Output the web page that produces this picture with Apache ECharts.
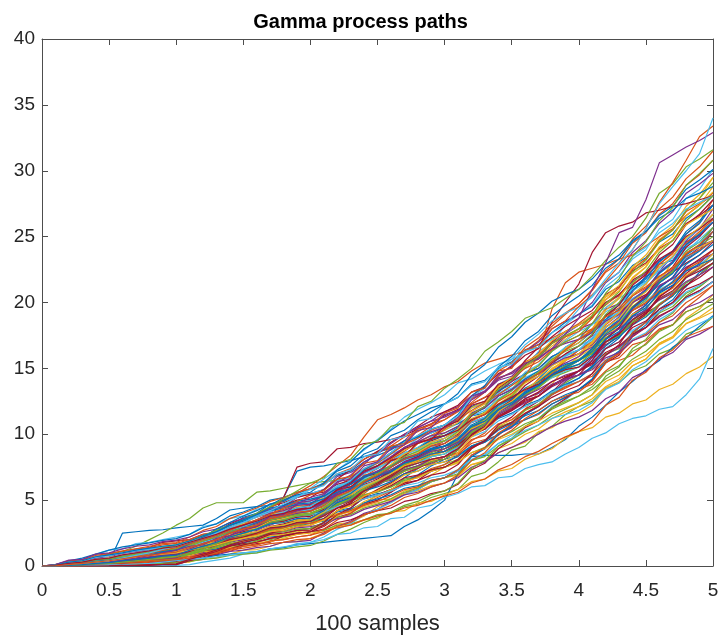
<!DOCTYPE html>
<html>
<head>
<meta charset="utf-8">
<script src="https://cdn.jsdelivr.net/npm/echarts/dist/echarts.min.js"></script>
<style>
  html, body { margin: 0; padding: 0; background: #ffffff; }
  #chart { width: 721px; height: 637px; }
</style>
</head>
<body>
<div id="chart"></div>
<script>
// Sample times shared by every path (step 0.1)
const timeGrid = [0, 0.1, 0.2, 0.3, 0.4, 0.5, 0.6, 0.7, 0.8, 0.9, 1.0,
  1.1, 1.2, 1.3, 1.4, 1.5, 1.6, 1.7, 1.8, 1.9, 2.0,
  2.1, 2.2, 2.3, 2.4, 2.5, 2.6, 2.7, 2.8, 2.9, 3.0,
  3.1, 3.2, 3.3, 3.4, 3.5, 3.6, 3.7, 3.8, 3.9, 4.0,
  4.1, 4.2, 4.3, 4.4, 4.5, 4.6, 4.7, 4.8, 4.9, 5.0];

// Axis tick values
const xTicks = [0, 0.5, 1, 1.5, 2, 2.5, 3, 3.5, 4, 4.5, 5];
const yTicks = [0, 5, 10, 15, 20, 25, 30, 35, 40];

// Line colour cycle (path i uses lineColors[i % 7])
const lineColors = ['#0072BD', '#D95319', '#EDB120', '#7E2F8E', '#77AC30', '#4DBEEE', '#A2142F'];

const chartTitle = 'Gamma process paths';
const xAxisTitle = '100 samples';

// One row per simulated path, values at the times in timeGrid
const samplePaths = [
  [0,0,0.02,0.02,0.1,0.3,0.3,0.5,0.55,0.9,1.2, 1.25,1.6,1.65,2.0,2.1,2.15,2.6,2.7,3.0,3.25, 3.4,4.2,4.4,5.2,5.5,5.6,6.7,7.4,8.3,9.1, 9.3,10.5,10.8,11.8,12.7,12.8,14.2,15.2,16.6,17.2, 18.4,18.7,19.9,21.2,21.6,22.9,23.2,24.6,25.2,26.1],
  [0,0.05,0.1,0.1,0.45,0.5,0.55,1.0,1.3,1.3,1.6, 1.9,1.95,2.5,2.7,3.3,3.4,3.5,4.1,4.5,4.7, 4.8,5.4,5.5,6.0,6.5,6.6,7.2,7.6,7.7,8.3, 8.5,9.3,9.6,9.9,10.8,11.1,11.5,12.3,12.8,13.4, 13.8,14.8,15.6,16.0,16.9,17.9,18.3,19.6,20.4,21.3],
  [0,0,0,0,0,0.02,0.02,0.1,0.1,0.2,0.28, 0.3,0.6,0.65,0.9,1.2,1.25,1.5,1.8,1.85,2.1, 2.5,3.2,3.3,3.8,4.5,4.8,5.5,6.0,6.9,7.5, 7.8,8.9,9.5,10.6,11.1,11.9,13.2,13.8,15.1,15.9, 16.5,17.9,18.5,19.9,21.0,21.6,23.1,24.2,25.3,26.7],
  [0,0.02,0.05,0.3,0.3,0.5,0.55,0.9,0.95,1.1,1.3, 1.4,2.1,2.3,2.9,3.1,3.9,4.1,4.5,5.2,5.5, 5.8,6.8,7.1,7.7,8.7,8.9,9.5,10.5,11.0,11.7, 12.1,12.9,13.2,14.3,14.6,15.3,16.2,16.4,17.4,18.0, 18.4,19.5,19.9,20.8,22.0,22.4,23.5,24.6,25.1,26.4],
  [0,0,0.02,0.02,0.1,0.1,0.3,0.4,0.45,0.6,0.7, 0.95,1.0,1.3,1.55,1.6,1.9,2.0,2.2,2.5,2.6, 2.7,3.1,3.2,3.5,3.9,4.0,4.5,4.7,5.2,5.5, 5.8,6.8,7.1,7.9,8.8,9.1,10.1,10.6,11.5,12.1, 12.5,13.5,13.9,14.8,15.2,16.1,16.5,17.6,18.0,18.9],
  [0,0,0.05,0.05,0.2,0.4,0.4,0.6,0.7,0.75,1.0, 1.2,1.6,1.8,2.3,2.5,2.9,3.3,3.5,4.1,4.3, 4.6,5.6,5.8,6.6,7.2,7.6,8.5,8.9,9.8,10.3, 10.8,12.0,12.4,13.8,14.3,15.0,16.3,16.9,18.3,19.1, 19.8,21.2,22.0,23.3,24.0,25.6,26.3,27.9,28.6,30.1],
  [0,0.1,0.35,0.4,0.45,0.95,1.1,1.15,1.4,1.8,1.9, 2.0,2.4,2.5,2.9,3.0,3.4,3.7,3.8,4.2,4.4, 4.7,5.3,5.5,6.2,6.5,6.9,7.6,7.8,8.4,8.9, 9.3,10.1,10.4,11.3,11.8,12.6,12.9,13.7,14.3,14.8, 15.6,16.8,17.4,18.5,19.2,20.5,21.1,22.2,23.0,24.0],
  [0,0.02,0.1,0.1,0.25,0.3,2.5,2.6,2.7,2.75,2.9, 3.0,3.1,3.6,4.25,4.4,4.5,4.6,5.2,7.2,7.5, 7.6,7.8,8.0,8.3,8.6,9.0,9.4,9.8,10.1,10.5, 10.8,11.4,11.6,12.2,12.9,13.3,13.8,14.5,15.0,15.6, 16.5,17.0,17.4,18.3,18.9,19.8,20.6,21.2,22.3,23.0],
  [0,0,0,0.02,0.05,0.05,0.2,0.3,0.3,0.45,0.52, 0.9,1.0,1.4,1.5,2.0,2.2,2.4,3.0,3.1,3.5, 3.8,4.6,5.0,5.5,6.3,6.7,7.6,7.9,8.9,9.5, 9.9,10.9,11.2,12.0,12.8,13.2,14.2,14.6,15.6,16.1, 17.0,18.3,19.1,20.5,21.4,22.9,23.7,25.2,26.1,27.8],
  [0,0,0.08,0.15,0.35,0.4,0.6,0.65,0.8,1.05,1.12, 1.4,1.5,1.85,1.9,2.3,2.5,2.6,3.0,3.1,3.4, 3.5,4.0,4.1,4.6,5.0,5.1,5.7,5.9,6.4,6.7, 6.9,7.7,7.9,8.6,9.0,9.4,10.2,10.5,11.2,11.6, 12.2,13.5,14.0,15.2,15.7,16.9,17.4,18.8,19.5,20.6],
  [0,0.02,0.1,0.12,0.3,0.4,0.45,0.65,0.7,0.9,1.0, 1.1,1.6,1.7,2.2,2.6,2.7,3.2,3.4,3.8,4.0, 4.3,4.9,5.3,5.6,6.3,6.5,7.0,7.5,7.8,8.3, 9.0,9.9,10.4,11.6,12.1,12.9,14.0,14.5,15.6,16.4, 16.8,17.9,18.3,19.4,19.9,20.8,21.3,22.4,22.8,23.7],
  [0,0.05,0.2,0.4,0.6,0.9,1.1,1.5,2.0,2.5,3.1, 3.6,4.4,4.8,4.8,4.8,5.6,5.7,5.9,6.1,6.3, 6.4,6.5,6.8,7.3,7.6,8.2,8.5,9.0,9.6,10.1, 10.6,11.0,11.7,12.2,12.8,13.4,13.9,14.4,15.2,15.7, 16.4,17.3,18.0,18.6,19.4,20.2,20.8,21.9,22.6,23.4],
  [0,0.05,0.25,0.45,0.85,1.2,1.3,1.7,1.8,2.0,2.2, 2.4,3.0,3.2,3.6,3.8,4.3,4.6,4.9,5.3,5.5, 5.8,6.5,6.7,7.3,7.8,8.0,8.6,9.0,9.6,9.9, 10.4,11.4,11.8,12.6,13.1,14.0,14.4,15.2,15.9,16.4, 17.1,18.5,19.0,20.3,20.9,22.3,23.0,24.3,25.0,26.4],
  [0,0,0,0,0,0,0.02,0.05,0.05,0.08,0.1, 0.4,0.5,1.0,1.1,1.5,1.7,1.8,2.3,2.4,2.6, 3.0,3.7,4.0,4.7,5.0,5.6,6.2,6.5,7.2,7.5, 8.0,9.0,9.4,10.5,10.9,11.9,12.5,13.2,14.2,14.8, 15.6,17.0,17.7,19.1,19.8,21.2,21.9,23.3,24.0,25.4],
  [0,0.02,0.1,0.3,0.35,0.6,0.65,0.95,1.1,1.35,1.48, 1.9,2.1,2.8,3.0,3.7,4.0,4.7,4.9,5.5,5.85, 6.3,7.2,7.6,8.5,8.9,9.9,10.3,11.1,11.7,12.3, 12.8,13.8,14.1,15.0,15.5,16.4,16.8,17.7,18.5,19.1, 19.7,21.0,21.6,22.8,23.4,24.6,25.2,26.4,27.1,28.1],
  [0,0,0.02,0.1,0.1,0.3,0.35,0.5,0.55,0.7,0.82, 1.2,1.3,1.9,2.2,2.7,2.8,3.4,3.6,4.0,4.2, 4.5,5.2,5.4,6.1,6.4,6.8,7.3,7.5,8.0,8.3, 8.6,9.6,9.9,10.8,11.1,11.9,12.2,13.0,13.5,14.0, 14.4,15.5,15.8,16.8,17.1,18.0,18.3,19.3,19.7,20.3],
  [0,0.02,0.1,0.25,0.3,0.5,0.6,0.8,0.85,1.1,1.18, 1.6,1.7,2.2,2.5,3.0,3.3,3.8,4.0,4.5,4.7, 5.0,5.7,5.9,6.5,6.8,7.3,7.8,8.1,8.7,9.1, 9.8,11.1,11.6,12.9,13.4,14.7,15.2,16.4,17.2,18.0, 18.8,20.4,21.1,22.6,23.3,24.8,25.5,27.0,27.9,29.5],
  [0,0,0,0.02,0.02,0.1,0.1,0.2,0.3,0.3,0.4, 0.45,0.8,0.85,1.1,1.2,1.4,1.5,1.8,1.85,1.95, 2.5,3.0,3.4,4.0,4.3,4.9,5.5,5.8,6.4,6.7, 7.2,8.4,8.9,10.0,10.5,11.5,12.1,13.1,14.0,14.8, 15.4,17.0,17.7,19.1,19.8,21.2,21.9,23.4,24.2,25.7],
  [0,0.05,0.1,0.3,0.35,0.6,0.7,0.9,1.0,1.2,1.36, 1.5,1.9,2.0,2.4,2.6,2.8,3.3,3.4,3.8,3.9, 4.1,4.7,4.9,5.4,5.7,6.0,6.6,6.8,7.3,7.7, 8.1,9.1,9.5,10.5,10.9,11.8,12.3,13.1,13.9,14.5, 15.0,16.1,16.5,17.7,18.1,19.2,19.7,20.7,21.2,22.0],
  [0,0,0.02,0.05,0.2,0.25,0.5,0.6,0.7,0.9,1.0, 1.3,1.8,2.0,2.6,2.9,3.3,3.8,4.0,4.5,4.7, 5.3,6.0,6.5,7.3,7.6,8.5,8.9,9.7,10.1,10.7, 11.1,12.0,12.3,13.1,13.5,14.2,14.6,15.5,16.0,16.7, 17.2,18.2,18.6,19.6,20.1,21.0,21.5,22.5,22.9,23.7],
  [0,0,0.05,0.1,0.15,0.3,0.5,0.6,0.75,0.9,1.1, 1.3,1.6,2.0,2.3,2.6,3.0,3.5,5.2,7.5,7.8, 7.9,8.9,9.0,9.3,9.4,9.6,9.9,10.4,10.8,11.4, 11.9,12.3,12.8,13.2,14.0,14.6,15.0,15.9,16.4,17.2, 17.9,18.6,19.2,20.1,20.6,21.5,22.3,23.0,23.6,24.6],
  [0,0,0.02,0.08,0.1,0.2,0.3,0.35,0.5,0.7,0.76, 0.9,1.2,1.3,1.6,1.75,2.0,2.2,2.3,2.7,2.86, 3.3,3.8,4.3,4.7,5.4,5.8,6.4,6.9,7.6,8.1, 8.4,9.1,9.4,10.0,10.6,11.1,11.6,12.3,12.8,13.4, 14.1,15.5,16.2,17.5,18.3,19.5,20.2,21.5,22.1,23.0],
  [0,0.08,0.3,0.4,0.7,0.95,1.0,1.3,1.4,1.6,1.72, 2.0,2.4,2.6,3.0,3.3,3.7,4.0,4.3,4.7,4.94, 5.5,6.0,6.7,7.4,7.9,8.6,9.2,9.9,10.6,11.1, 11.8,12.9,13.6,14.8,15.4,16.6,17.3,18.4,19.2,19.9, 20.9,22.3,23.0,24.5,25.3,26.7,27.5,28.9,29.7,30.8],
  [0,0.03,0.15,0.2,0.4,0.45,0.6,0.8,0.85,0.95,1.0, 1.3,1.5,1.8,1.9,2.3,2.5,2.8,2.9,3.2,3.25, 3.5,3.9,4.1,4.5,4.8,5.0,5.5,5.7,6.1,6.3, 6.8,7.7,8.0,8.9,9.3,10.0,10.4,11.2,11.7,12.1, 12.7,13.6,14.2,15.2,15.7,16.8,17.3,18.4,18.9,19.6],
  [0,0,0.02,0.1,0.15,0.2,0.3,0.45,0.5,0.6,0.64, 1.0,1.3,1.8,2.1,2.5,2.8,3.1,3.5,3.7,3.9, 4.3,5.1,5.5,6.3,6.7,7.5,8.1,8.5,9.2,9.7, 10.3,11.6,12.1,13.3,14.0,15.1,15.8,16.9,17.6,18.3, 18.9,20.0,20.5,21.6,22.2,23.2,23.8,25.0,25.6,26.7],
  [0,0.04,0.15,0.2,0.45,0.5,0.7,0.8,1.0,1.15,1.24, 1.5,1.8,2.0,2.4,2.7,2.9,3.4,3.6,4.0,4.16, 4.6,5.3,5.6,6.4,6.8,7.3,7.9,8.2,8.8,9.1, 9.5,10.5,10.9,11.9,12.3,13.1,13.6,14.3,14.7,15.1, 15.9,17.3,18.0,19.4,20.2,21.5,22.3,23.7,24.4,25.7],
  [0,0,0,0,0,0,0,0.02,0.02,0.05,0.05, 0.1,0.3,0.45,0.6,0.9,1.0,1.3,1.4,1.7,1.8, 2.2,2.8,3.2,3.9,4.3,4.8,5.4,5.8,6.4,6.7, 7.2,8.0,8.4,9.3,9.9,10.6,11.2,12.1,12.6,13.4, 14.2,15.6,16.3,17.8,18.5,19.9,20.6,22.0,22.7,23.7],
  [0,0.05,0.2,0.3,0.5,0.6,0.8,0.95,1.15,1.3,1.42, 1.8,2.3,2.6,3.2,3.6,3.9,4.5,4.8,5.2,5.46, 5.6,6.2,6.5,7.1,7.4,8.0,8.4,8.9,9.5,9.9, 10.3,11.1,11.5,12.2,12.8,13.2,14.0,14.5,15.2,15.6, 16.2,17.0,17.6,18.4,19.2,19.8,20.6,21.3,22.1,23.0],
  [0,0,0,0.02,0.05,0.05,0.1,0.2,0.25,0.3,0.4, 0.5,0.6,0.8,0.9,1.0,1.1,1.3,1.4,1.6,1.7, 1.8,1.9,2.0,2.1,2.2,2.3,3.0,3.5,4.2,5.0, 7.0,8.3,8.4,8.4,8.4,8.5,8.5,9.0,9.6,10.6, 11.3,12.2,13.2,14.0,14.9,15.6,16.6,17.3,18.2,19.0],
  [0,0,0.05,0.08,0.2,0.25,0.4,0.5,0.65,0.8,0.88, 1.2,1.5,1.9,2.2,2.7,3.0,3.4,3.7,4.0,4.3, 4.9,5.5,6.2,6.8,7.4,8.1,8.7,9.4,9.9,10.5, 11.3,12.4,13.2,14.4,15.2,16.3,17.1,18.2,19.1,19.9, 21.0,22.4,23.3,24.8,25.8,27.1,28.0,29.4,30.3,31.5],
  [0,0.02,0.1,0.15,0.3,0.4,0.5,0.7,0.8,0.95,1.06, 1.3,1.4,1.8,2.0,2.4,2.5,2.9,3.0,3.3,3.5, 3.9,4.6,5.0,5.6,6.2,6.6,7.3,7.6,8.3,8.7, 9.3,10.4,10.9,11.9,12.5,13.4,14.0,14.9,15.7,16.4, 17.0,17.9,18.5,19.4,20.0,20.9,21.5,22.5,23.1,24.0],
  [0,0,0,0.02,0.05,0.1,0.15,0.2,0.3,0.35,0.4, 0.8,1.0,1.5,1.8,2.2,2.4,2.8,3.1,3.5,3.64, 4.0,4.8,5.2,6.0,6.5,7.1,7.9,8.3,9.1,9.5, 10.0,10.9,11.3,12.1,12.6,13.3,13.7,14.5,15.1,15.6, 16.4,17.8,18.6,20.0,20.9,22.3,23.1,24.7,25.6,27.1],
  [0,0.04,0.2,0.3,0.45,0.6,0.75,0.9,1.0,1.2,1.3, 1.5,1.9,2.1,2.5,2.8,3.0,3.4,3.5,3.8,3.9, 4.2,4.7,4.9,5.4,5.6,6.0,6.5,6.7,7.2,7.5, 7.9,8.6,9.0,9.7,10.2,10.8,11.2,11.9,12.4,12.9, 13.4,14.2,14.8,15.7,16.3,17.2,17.8,18.7,19.3,19.9],
  [0,0.02,0.1,0.15,0.3,0.45,0.5,0.65,0.75,0.9,1.0, 1.4,1.8,2.1,2.7,3.0,3.4,3.9,4.1,4.6,4.8, 5.1,5.8,6.0,6.7,7.0,7.6,8.0,8.4,9.0,9.3, 10.0,11.1,11.6,12.7,13.3,14.3,14.8,15.8,16.6,17.2, 17.8,18.7,19.3,20.3,20.9,21.8,22.4,23.4,24.0,24.7],
  [0,0,0.02,0.05,0.15,0.2,0.3,0.35,0.5,0.6,0.7, 0.85,1.1,1.2,1.5,1.7,1.8,2.1,2.3,2.5,2.6, 2.8,3.3,3.5,3.9,4.2,4.4,4.9,5.1,5.5,5.7, 6.2,7.3,7.8,8.9,9.6,10.5,11.0,12.0,12.7,13.4, 14.1,15.4,16.0,17.4,18.1,19.3,20.0,21.3,21.9,22.7],
  [0,0.1,0.4,0.6,0.9,1.2,1.45,1.6,1.75,1.95,2.08, 2.4,2.9,3.2,3.8,4.1,4.5,5.0,5.2,5.6,5.85, 6.2,6.9,7.2,7.9,8.4,8.8,9.5,9.8,10.4,10.7, 11.1,12.1,12.5,13.3,13.8,14.6,15.0,15.9,16.4,16.95, 17.8,19.0,19.8,21.1,21.9,23.1,23.9,25.2,26.0,27.4],
  [0,0.02,0.1,0.2,0.3,0.45,0.6,0.8,1.0,1.3,1.5, 1.8,2.2,2.6,3.1,3.5,3.9,4.4,5.0,5.5,6.1, 6.8,7.6,8.4,9.8,11.1,11.5,12.0,12.6,13.0,13.6, 14.0,14.8,15.4,15.7,16.0,16.3,16.8,17.3,17.8,18.4, 19.2,19.8,20.6,21.4,22.1,22.9,23.8,24.5,25.4,26.3],
  [0,0,0.02,0.1,0.2,0.3,0.35,0.5,0.6,0.8,0.88, 1.0,1.4,1.5,1.9,2.1,2.3,2.7,2.8,3.0,3.1, 3.5,4.2,4.6,5.3,5.8,6.4,7.0,7.4,8.0,8.3, 9.0,10.3,10.9,12.1,12.8,13.9,14.6,15.6,16.5,17.2, 18.0,19.6,20.4,21.9,22.7,24.2,25.0,26.6,27.4,28.8],
  [0,0.05,0.25,0.3,0.6,0.7,0.95,1.1,1.25,1.45,1.54, 1.8,2.1,2.3,2.8,3.0,3.3,3.8,3.9,4.3,4.4, 4.8,5.5,5.8,6.4,6.8,7.1,7.8,8.0,8.5,8.7, 9.1,10.1,10.5,11.3,11.8,12.4,12.9,13.6,14.1,14.5, 15.1,16.0,16.6,17.5,18.1,18.9,19.5,20.4,20.9,21.6],
  [0,0,0,0,0.02,0.05,0.05,0.1,0.15,0.2,0.22, 0.5,0.8,1.0,1.4,1.6,1.9,2.3,2.4,2.7,2.86, 3.1,3.7,3.9,4.4,4.7,5.1,5.6,5.9,6.4,6.7, 7.0,8.0,8.3,9.1,9.6,10.2,10.7,11.4,11.9,12.4, 13.0,14.4,15.1,16.5,17.2,18.5,19.2,20.5,21.2,22.0],
  [0,0,0.05,0.15,0.3,0.4,0.55,0.7,0.9,1.1,1.35, 1.6,2.0,2.4,2.8,3.3,3.7,4.1,4.6,5.3,5.9, 6.6,7.3,8.0,8.8,9.6,10.4,11.3,11.9,12.4,13.0, 13.9,14.2,14.8,15.3,15.7,16.2,16.6,17.2,17.7,18.3, 19.0,19.6,20.3,21.0,21.6,22.4,23.1,23.9,24.8,25.7],
  [0,0.02,0.1,0.2,0.3,0.45,0.6,0.75,0.85,1.05,1.18, 1.6,2.0,2.6,3.0,3.5,3.8,4.3,4.6,5.0,5.2, 5.8,6.6,7.3,8.1,8.7,9.4,10.0,10.6,11.3,11.7, 12.2,13.2,13.6,14.6,15.1,16.0,16.5,17.4,18.2,18.8, 19.4,20.6,21.2,22.4,23.0,24.1,24.7,26.0,26.6,27.4],
  [0,0.02,0.1,0.15,0.3,0.4,0.55,0.65,0.8,0.95,1.0, 1.3,1.5,1.8,2.0,2.4,2.5,2.8,3.0,3.3,3.5, 4.0,4.8,5.2,6.0,6.5,7.1,7.8,8.2,8.8,9.1, 9.4,10.2,10.5,11.2,11.6,12.2,12.6,13.3,13.8,14.25, 15.2,16.7,17.5,18.9,19.8,21.1,21.9,23.2,23.9,24.7],
  [0,0,0.02,0.05,0.1,0.15,0.25,0.3,0.4,0.5,0.58, 0.7,0.9,1.0,1.3,1.5,1.6,1.9,2.0,2.2,2.34, 2.8,3.5,4.0,4.7,5.2,5.7,6.3,6.8,7.4,7.7, 8.4,9.5,10.1,11.3,12.0,13.0,13.7,14.7,15.6,16.4, 17.0,17.9,18.4,19.4,20.0,20.9,21.5,22.5,23.1,24.0],
  [0,0.04,0.2,0.25,0.5,0.55,0.8,0.9,1.1,1.3,1.36, 1.7,2.0,2.4,2.8,3.2,3.5,3.9,4.2,4.5,4.7, 5.2,5.9,6.3,7.1,7.5,8.2,8.8,9.3,9.9,10.3, 10.9,12.0,12.5,13.6,14.2,15.1,15.7,16.7,17.4,18.0, 19.0,20.5,21.3,22.7,23.6,25.0,25.8,27.3,28.2,29.5],
  [0,0.02,0.1,0.15,0.3,0.4,0.55,0.7,0.75,0.9,0.94, 1.1,1.4,1.5,1.8,2.0,2.2,2.5,2.6,2.9,2.99, 3.2,3.6,3.8,4.3,4.6,4.9,5.4,5.6,6.0,6.3, 6.7,7.5,7.9,8.6,9.0,9.5,10.0,10.6,11.0,11.3, 11.8,12.7,13.2,14.3,14.8,15.7,16.2,17.2,17.6,18.2],
  [0,0.02,0.08,0.15,0.3,0.45,0.5,0.7,0.8,1.0,1.12, 1.5,1.8,2.1,2.6,2.9,3.2,3.7,3.9,4.3,4.4, 4.7,5.2,5.5,6.0,6.4,6.8,7.3,7.6,8.1,8.3, 8.9,10.0,10.5,11.5,12.1,12.9,13.5,14.4,15.0,15.6, 16.4,17.7,18.4,19.7,20.5,21.7,22.4,23.9,24.6,25.7],
  [0,0.05,0.3,0.35,0.7,0.8,1.0,1.2,1.3,1.5,1.6, 1.8,2.0,2.2,2.6,2.8,3.0,3.4,3.5,3.8,3.9, 4.4,5.3,5.6,6.5,7.0,7.6,8.3,8.7,9.4,9.7, 10.3,11.5,12.0,13.1,13.7,14.7,15.3,16.3,17.1,17.8, 18.3,19.3,19.8,20.9,21.5,22.4,23.0,24.1,24.6,25.4],
  [0,0,0,0.02,0.05,0.1,0.15,0.25,0.3,0.4,0.46, 0.9,1.1,1.6,1.9,2.4,2.6,3.0,3.2,3.5,3.64, 3.9,4.4,4.6,5.1,5.4,5.8,6.3,6.5,6.9,7.1, 7.7,8.9,9.5,10.7,11.3,12.3,12.9,13.7,14.3,14.8, 15.3,16.2,16.7,17.6,18.1,19.0,19.5,20.4,20.9,21.6],
  [0,0,0.05,0.1,0.25,0.35,0.5,0.6,0.75,0.9,1.0, 1.4,1.6,2.0,2.4,2.7,3.0,3.4,3.6,4.0,4.16, 4.6,5.4,5.9,6.7,7.2,7.9,8.5,8.9,9.6,9.9, 10.5,11.5,12.0,12.9,13.4,14.2,14.8,15.5,16.0,16.4, 17.3,18.7,19.5,20.9,21.8,23.1,23.9,25.4,26.2,27.4],
  [0,0,0.02,0.05,0.15,0.2,0.3,0.4,0.5,0.65,0.76, 1.2,1.6,2.0,2.5,2.8,3.2,3.7,3.9,4.2,4.4, 5.0,5.8,6.4,7.3,7.8,8.5,9.2,9.7,10.3,10.7, 11.2,12.3,12.8,13.7,14.2,15.0,15.5,16.4,17.0,17.5, 18.0,19.0,19.6,20.6,21.2,22.0,22.6,23.5,24.0,24.7],
  [0,0,0.02,0.05,0.1,0.15,0.25,0.35,0.45,0.6,0.7, 0.8,1.1,1.15,1.4,1.5,1.8,1.85,2.1,2.4,2.5, 2.6,3.0,3.1,3.5,3.6,4.1,4.2,4.8,4.9,5.4, 5.8,6.4,6.6,7.2,7.4,8.1,8.5,8.9,9.7,10.2, 10.5,11.3,11.6,12.3,12.6,13.4,13.8,14.6,15.1,15.9],
  [0,0.04,0.2,0.25,0.45,0.6,0.7,0.85,1.0,1.15,1.24, 1.4,1.6,1.8,2.1,2.3,2.5,2.8,3.0,3.2,3.4, 3.9,4.6,5.0,5.7,6.1,6.7,7.3,7.6,8.1,8.3, 9.0,10.1,10.7,11.8,12.4,13.3,14.0,14.8,15.4,15.9, 16.8,18.1,18.9,20.2,21.0,22.3,23.1,24.4,25.1,26.1],
  [0,0,0,0,0.02,0.05,0.1,0.15,0.2,0.25,0.28, 0.35,0.5,0.6,0.8,0.9,1.0,1.2,1.3,1.45,1.56, 1.9,2.4,2.8,3.3,3.7,4.1,4.6,4.9,5.4,5.7, 6.3,7.4,8.0,9.1,9.7,10.6,11.2,12.0,12.5,12.9, 13.6,14.7,15.2,16.3,16.8,17.8,18.3,19.3,19.7,20.3],
  [0,0.05,0.2,0.3,0.5,0.65,0.8,1.0,1.2,1.35,1.48, 1.8,2.3,2.6,3.1,3.5,3.8,4.3,4.5,4.9,5.07, 5.4,6.1,6.4,7.0,7.5,7.9,8.6,8.9,9.4,9.7, 10.3,11.4,11.8,12.7,13.3,14.0,14.6,15.4,16.0,16.4, 17.3,18.6,19.3,20.6,21.4,22.6,23.4,24.8,25.6,26.7],
  [0,0.02,0.1,0.2,0.3,0.4,0.5,0.65,0.75,0.9,1.0, 1.3,1.6,1.8,2.3,2.5,2.8,3.3,3.4,3.7,3.77, 4.3,5.0,5.4,6.1,6.6,7.2,7.9,8.3,8.9,9.3, 10.0,11.4,12.1,13.5,14.2,15.3,16.0,17.0,17.8,18.3, 18.9,20.0,20.6,21.7,22.3,23.3,23.9,25.0,25.6,26.4],
  [0,0,0.02,0.1,0.15,0.25,0.3,0.4,0.5,0.55,0.64, 1.0,1.3,1.6,2.0,2.3,2.5,2.9,3.0,3.3,3.38, 3.6,4.1,4.3,4.8,5.1,5.4,5.9,6.1,6.5,6.7, 7.3,8.3,8.9,10.0,10.6,11.5,12.1,13.0,13.7,14.25, 15.1,16.5,17.3,18.7,19.5,20.8,21.6,22.9,23.6,24.4],
  [0,0.08,0.4,0.45,0.8,0.95,1.15,1.3,1.5,1.7,1.78, 2.2,2.7,3.0,3.6,4.0,4.4,4.9,5.2,5.6,5.85, 6.2,7.0,7.4,8.1,8.6,9.1,9.8,10.2,10.8,11.1, 11.7,12.7,13.2,14.2,14.7,15.5,16.0,16.9,17.4,17.8, 18.8,20.2,21.1,22.5,23.3,24.7,25.5,26.9,27.5,28.1],
  [0,0,0.05,0.1,0.25,0.3,0.45,0.55,0.65,0.8,0.82, 1.0,1.2,1.4,1.7,1.9,2.0,2.3,2.4,2.6,2.73, 3.1,3.8,4.2,4.9,5.3,5.8,6.4,6.7,7.2,7.5, 7.9,8.6,8.9,9.6,10.0,10.6,11.0,11.6,12.0,12.4, 13.0,14.0,14.5,15.5,16.0,16.9,17.4,18.4,18.8,19.3],
  [0,0.04,0.15,0.25,0.4,0.6,0.7,0.9,1.05,1.2,1.3, 1.6,1.9,2.2,2.6,2.9,3.2,3.6,3.8,4.1,4.3, 4.9,5.7,6.2,7.1,7.6,8.3,9.0,9.5,10.2,10.5, 11.3,12.6,13.2,14.5,15.2,16.3,17.0,18.0,18.6,19.1, 20.0,21.5,22.3,23.8,24.7,26.0,26.9,28.3,29.0,29.8],
  [0,0,0.02,0.05,0.1,0.2,0.25,0.3,0.4,0.45,0.52, 0.9,1.1,1.5,1.8,2.2,2.4,2.7,2.9,3.1,3.25, 3.8,4.6,5.1,5.9,6.4,7.0,7.7,8.1,8.6,8.9, 9.5,10.6,11.1,12.1,12.6,13.4,14.0,14.7,15.2,15.6, 16.1,17.0,17.5,18.5,19.0,19.9,20.5,21.5,22.1,23.0],
  [0,0.02,0.1,0.2,0.3,0.4,0.55,0.7,0.8,1.0,1.12, 1.6,2.0,2.5,3.0,3.4,3.8,4.2,4.4,4.8,4.94, 5.3,6.0,6.3,7.0,7.4,7.9,8.5,8.8,9.3,9.5, 9.9,10.9,11.3,12.1,12.6,13.2,13.7,14.3,14.8,15.1, 15.6,16.5,17.0,17.9,18.5,19.3,19.9,20.8,21.3,22.0],
  [0,0,0,0,0,0.02,0.02,0.05,0.05,0.1,0.1, 0.4,0.7,0.9,1.3,1.6,1.8,2.1,2.3,2.5,2.6, 3.1,3.9,4.4,5.2,5.8,6.3,7.0,7.4,7.9,8.1, 8.8,10.0,10.6,11.9,12.6,13.7,14.4,15.4,16.1,16.7, 17.5,19.0,19.8,21.3,22.1,23.6,24.4,25.9,26.7,27.8],
  [0,0.02,0.1,0.15,0.25,0.4,0.5,0.65,0.8,0.9,1.0, 1.3,1.6,1.9,2.3,2.6,2.8,3.3,3.5,3.8,3.9, 4.2,4.8,5.1,5.7,6.0,6.4,7.0,7.2,7.7,7.9, 8.3,9.1,9.5,10.3,10.8,11.4,11.8,12.5,13.0,13.4, 14.2,15.6,16.3,17.7,18.5,19.8,20.5,21.9,22.6,23.3],
  [0,0.02,0.05,0.1,0.2,0.3,0.45,0.6,0.8,1.0,1.2, 1.4,1.7,2.0,2.3,2.6,3.0,3.4,3.8,4.3,4.7, 5.0,5.8,6.0,6.9,7.1,8.0,8.3,9.3,9.6,10.4, 11.1,11.8,12.4,13.0,13.7,14.4,16.0,19.5,21.5,22.3, 22.6,22.9,23.3,23.6,24.3,25.0,25.6,26.6,27.4,28.3],
  [0,0.05,0.15,0.3,0.4,0.65,0.75,0.95,1.1,1.25,1.36, 1.6,1.9,2.2,2.5,2.8,3.1,3.4,3.7,4.0,4.16, 4.6,5.2,5.5,6.1,6.5,7.0,7.6,7.9,8.4,8.7, 9.4,10.5,11.1,12.3,13.0,14.0,14.7,15.7,16.4,16.95, 17.9,19.4,20.3,21.8,22.7,24.2,25.0,26.6,27.4,28.4],
  [0,0,0.05,0.1,0.2,0.3,0.4,0.55,0.6,0.75,0.88, 1.3,1.8,2.2,2.8,3.1,3.5,4.0,4.2,4.6,4.7, 5.4,6.3,6.9,7.9,8.5,9.3,10.0,10.5,11.0,11.3, 11.8,12.8,13.3,14.2,14.7,15.4,15.8,16.5,16.9,17.2, 17.7,18.6,19.1,20.0,20.5,21.3,21.8,22.7,23.2,23.7],
  [0,0,0.02,0.1,0.15,0.2,0.3,0.35,0.5,0.6,0.7, 1.0,1.3,1.6,2.0,2.3,2.5,2.9,3.1,3.4,3.5, 4.0,4.7,5.1,5.8,6.3,6.8,7.4,7.8,8.3,8.5, 9.1,10.2,10.7,11.7,12.3,13.0,13.6,14.4,14.9,15.3, 16.2,17.5,18.3,19.6,20.4,21.6,22.4,23.7,24.3,25.0],
  [0,0.06,0.3,0.4,0.65,0.8,1.0,1.15,1.3,1.45,1.54, 1.8,2.1,2.3,2.7,2.9,3.1,3.5,3.6,3.8,3.9, 4.1,4.5,4.7,5.1,5.4,5.7,6.1,6.3,6.7,6.9, 7.3,8.1,8.5,9.3,9.7,10.3,10.7,11.2,11.5,11.8, 12.4,13.4,13.9,14.9,15.5,16.4,17.0,17.9,18.4,18.9],
  [0,0,0.03,0.1,0.2,0.35,0.45,0.6,0.75,0.95,1.15, 1.4,1.6,1.9,2.3,2.6,3.0,3.4,3.7,4.2,4.6, 4.9,5.8,6.0,6.8,7.0,8.0,8.3,9.4,9.6,10.6, 11.0,12.2,12.5,13.8,14.2,15.6,16.6,18.5,20.0,21.4, 23.8,25.3,25.8,26.1,26.8,27.0,27.3,27.5,27.8,28.1],
  [0,0,0.05,0.1,0.25,0.3,0.45,0.6,0.7,0.85,0.94, 1.4,1.7,2.1,2.6,3.0,3.3,3.8,4.0,4.4,4.55, 5.1,5.9,6.4,7.3,7.9,8.6,9.4,9.8,10.4,10.7, 11.5,12.9,13.7,15.1,15.9,17.1,17.8,19.0,19.8,20.5, 21.3,22.6,23.3,24.6,25.4,26.6,27.3,28.6,29.3,30.1],
  [0,0,0.02,0.05,0.1,0.2,0.25,0.3,0.4,0.5,0.58, 0.7,0.9,1.1,1.3,1.5,1.6,1.9,2.0,2.2,2.34, 2.6,2.9,3.1,3.5,3.8,4.0,4.4,4.6,5.0,5.3, 5.6,6.3,6.6,7.3,7.7,8.3,8.7,9.3,9.8,10.2, 10.9,12.2,12.8,14.1,14.7,15.8,16.4,17.4,17.8,18.2],
  [0,0.02,0.1,0.2,0.4,0.45,0.6,0.8,0.9,1.05,1.18, 1.4,1.6,1.9,2.3,2.5,2.8,3.2,3.3,3.5,3.64, 4.2,5.0,5.5,6.3,6.8,7.5,8.2,8.6,9.2,9.5, 10.1,11.2,11.6,12.6,13.1,13.9,14.4,15.2,15.7,16.1, 16.7,17.6,18.1,19.1,19.6,20.6,21.1,22.1,22.7,23.7],
  [0,0.1,0.45,0.5,0.9,1.0,1.3,1.5,1.6,1.85,1.96, 2.2,2.6,2.8,3.3,3.6,3.9,4.3,4.5,4.8,4.94, 5.3,5.9,6.2,6.8,7.2,7.6,8.2,8.5,8.9,9.1, 9.6,10.5,10.9,11.7,12.2,12.9,13.4,14.0,14.5,14.8, 15.8,17.2,18.1,19.5,20.4,21.7,22.5,23.8,24.3,24.7],
  [0,0,0.02,0.05,0.15,0.2,0.3,0.4,0.55,0.7,0.76, 0.9,1.2,1.4,1.7,1.9,2.2,2.5,2.6,2.8,2.86, 3.3,4.2,4.8,5.7,6.3,6.9,7.7,8.0,8.3,8.5, 9.2,10.5,11.2,12.6,13.3,14.5,15.2,16.3,17.0,17.5, 18.4,19.9,20.8,22.3,23.2,24.6,25.5,27.0,27.9,29.1],
  [0,0.02,0.1,0.2,0.35,0.4,0.55,0.7,0.85,0.95,1.06, 1.4,1.8,2.1,2.5,2.8,3.1,3.6,3.8,4.1,4.3, 4.6,5.2,5.5,6.1,6.5,7.0,7.5,7.8,8.3,8.5, 9.0,9.8,10.2,11.0,11.5,12.1,12.5,13.2,13.7,14.0, 14.6,15.6,16.2,17.2,17.7,18.7,19.3,20.3,20.8,21.6],
  [0,0,0,0.02,0.05,0.1,0.15,0.2,0.25,0.3,0.34, 0.6,0.9,1.2,1.6,1.9,2.1,2.5,2.7,3.0,3.1, 3.6,4.4,4.9,5.8,6.3,6.9,7.6,8.0,8.5,8.7, 9.2,10.0,10.4,11.3,11.8,12.5,12.9,13.7,14.2,14.5, 15.6,17.2,18.1,19.6,20.5,21.9,22.7,24.2,25.0,26.1],
  [0,0.02,0.1,0.2,0.35,0.5,0.65,0.8,0.95,1.1,1.24, 1.7,2.2,2.8,3.3,3.8,4.2,4.7,5.0,5.4,5.6, 6.3,7.3,7.9,8.9,9.5,10.3,11.0,11.5,12.0,12.3, 13.1,14.5,15.3,16.6,17.4,18.5,19.2,20.1,20.6,21.0, 21.8,22.9,23.6,24.7,25.4,26.4,27.0,27.9,28.3,28.8],
  [0,0,0.05,0.1,0.2,0.3,0.4,0.5,0.6,0.75,0.82, 1.1,1.4,1.6,2.0,2.2,2.4,2.8,2.9,3.2,3.25, 3.5,3.9,4.2,4.6,4.9,5.3,5.8,6.0,6.5,6.7, 7.3,8.4,9.0,10.1,10.7,11.6,12.2,13.0,13.6,14.0, 14.6,15.6,16.1,17.1,17.6,18.5,19.0,20.0,20.6,21.3],
  [0,0.02,0.08,0.15,0.25,0.35,0.5,0.6,0.75,0.9,1.0, 1.3,1.7,1.9,2.4,2.7,2.9,3.4,3.6,3.9,4.0, 4.4,5.0,5.4,6.0,6.5,7.0,7.6,8.0,8.5,8.7, 9.3,10.4,10.9,11.9,12.5,13.4,14.0,14.9,15.6,16.1, 17.0,18.4,19.2,20.6,21.4,22.7,23.5,24.9,25.7,26.7],
  [0,0,0.02,0.05,0.1,0.2,0.3,0.4,0.5,0.55,0.64, 1.1,1.4,1.9,2.3,2.7,3.0,3.5,3.7,4.0,4.16, 4.8,5.6,6.2,7.1,7.6,8.3,9.0,9.4,9.9,10.1, 10.6,11.6,12.0,12.9,13.4,14.1,14.6,15.3,15.8,16.1, 16.6,17.5,18.0,18.9,19.4,20.2,20.7,21.6,22.1,22.7],
  [0,0.02,0.1,0.2,0.35,0.5,0.7,0.9,1.1,1.4,1.6, 1.9,2.3,2.7,3.1,3.5,4.0,4.5,5.1,5.7,6.3, 6.7,7.8,8.1,9.2,9.5,10.6,10.9,12.1,12.5,13.5, 14.2,15.0,16.3,17.0,17.8,18.8,19.2,19.6,20.3,21.0, 22.0,23.2,24.2,25.0,26.4,28.3,29.0,30.3,30.9,31.6],
  [0,0.05,0.2,0.3,0.45,0.6,0.75,0.9,1.1,1.3,1.42, 1.7,2.0,2.3,2.7,3.0,3.4,3.8,4.0,4.4,4.55, 5.1,5.9,6.5,7.4,7.9,8.6,9.4,9.9,10.4,10.7, 11.4,12.8,13.5,14.9,15.7,16.8,17.6,18.6,19.2,19.65, 20.4,21.6,22.3,23.5,24.2,25.3,26.0,27.1,27.6,28.1],
  [0,0,0.05,0.1,0.2,0.25,0.4,0.5,0.65,0.8,0.88, 1.1,1.4,1.6,2.0,2.2,2.5,2.9,3.0,3.3,3.4, 3.8,4.4,4.7,5.3,5.7,6.1,6.7,6.9,7.3,7.5, 8.1,9.0,9.5,10.4,10.9,11.6,12.1,12.8,13.3,13.7, 14.6,16.0,16.8,18.3,19.1,20.4,21.2,22.6,23.3,24.0],
  [0,0.07,0.3,0.4,0.7,0.85,1.0,1.2,1.35,1.5,1.6, 1.9,2.3,2.6,3.1,3.4,3.8,4.2,4.4,4.7,4.8, 5.1,5.6,5.9,6.4,6.8,7.2,7.8,8.1,8.5,8.7, 9.3,10.3,10.8,11.8,12.3,13.1,13.7,14.5,15.1,15.6, 16.3,17.6,18.3,19.6,20.3,21.5,22.2,23.6,24.3,25.4],
  [0,0,0,0.02,0.05,0.1,0.15,0.2,0.3,0.4,0.46, 0.6,0.8,0.95,1.2,1.35,1.5,1.7,1.8,2.0,2.08, 2.4,3.0,3.3,3.9,4.2,4.6,5.2,5.5,6.0,6.3, 6.9,8.0,8.6,9.7,10.3,11.2,11.8,12.5,12.9,13.2, 14.0,15.4,16.2,17.7,18.5,19.8,20.6,22.0,22.6,23.3],
  [0,0.02,0.1,0.2,0.35,0.45,0.6,0.75,0.85,1.0,1.12, 1.3,1.6,1.8,2.2,2.4,2.6,3.0,3.1,3.4,3.5, 4.1,5.0,5.5,6.4,7.0,7.7,8.5,8.9,9.4,9.7, 10.4,11.7,12.3,13.6,14.3,15.4,16.1,17.1,17.8,18.3, 19.0,20.2,20.9,22.2,22.9,24.0,24.7,25.9,26.5,27.1],
  [0,0,0.05,0.1,0.2,0.3,0.45,0.55,0.7,0.85,0.94, 1.3,1.7,2.0,2.5,2.8,3.1,3.6,3.8,4.2,4.4, 4.8,5.4,5.8,6.4,6.8,7.3,7.9,8.2,8.7,8.9, 9.4,10.3,10.7,11.5,12.0,12.7,13.1,13.8,14.2,14.5, 14.9,15.8,16.2,17.1,17.5,18.3,18.7,19.6,20.0,20.6],
  [0,0.04,0.15,0.3,0.45,0.55,0.75,0.9,1.05,1.2,1.3, 1.6,1.9,2.2,2.6,2.9,3.1,3.5,3.7,3.9,4.03, 4.4,5.0,5.3,5.8,6.2,6.6,7.2,7.5,7.9,8.1, 8.8,10.1,10.8,12.2,12.9,14.0,14.7,15.7,16.3,16.7, 17.6,19.1,20.0,21.5,22.4,23.8,24.7,26.2,27.1,28.1],
  [0,0,0,0.02,0.05,0.08,0.1,0.15,0.2,0.3,0.4, 0.5,0.6,0.7,0.85,1.0,1.1,1.3,1.45,1.6,1.8, 2.0,2.4,2.5,2.9,3.0,3.6,3.7,4.4,4.6,5.2, 5.5,6.0,6.1,6.7,6.8,7.4,7.7,7.9,8.5,9.0, 9.7,10.1,10.8,11.2,11.4,11.9,12.1,13.0,14.2,16.5],
  [0,0,0,0,0,0.02,0.05,0.05,0.1,0.12,0.16, 0.5,0.8,1.1,1.5,1.8,2.0,2.4,2.5,2.7,2.73, 3.3,4.2,4.8,5.7,6.2,6.8,7.5,7.8,8.1,8.3, 8.9,9.9,10.4,11.4,11.9,12.7,13.2,14.0,14.4,14.8, 15.4,16.5,17.0,18.1,18.6,19.5,20.0,21.0,21.4,22.0],
  [0,0.02,0.1,0.2,0.35,0.45,0.6,0.75,0.85,1.05,1.18, 1.7,2.1,2.6,3.1,3.5,3.9,4.4,4.6,4.9,5.07, 5.3,5.9,6.2,6.8,7.1,7.6,8.1,8.4,8.9,9.1, 9.7,10.7,11.2,12.2,12.7,13.5,14.0,14.8,15.3,15.6, 16.5,17.9,18.7,20.1,20.9,22.2,23.0,24.4,25.2,26.1],
  [0,0.02,0.05,0.15,0.25,0.4,0.55,0.75,0.95,1.2,1.4, 1.7,2.0,2.3,2.7,3.1,3.5,3.9,4.4,4.9,5.4, 5.7,6.6,6.8,7.8,8.0,9.1,9.3,10.4,10.7,11.6, 12.0,13.2,13.5,14.8,15.0,16.4,16.6,18.0,18.6,19.7, 20.6,21.6,22.8,24.0,25.6,27.6,29.1,30.8,32.6,33.4],
  [0,0.02,0.1,0.15,0.3,0.4,0.5,0.65,0.8,0.9,1.0, 1.2,1.4,1.6,1.9,2.1,2.3,2.6,2.7,3.0,3.1, 3.5,4.2,4.6,5.3,5.7,6.2,6.9,7.2,7.7,7.9, 8.6,9.8,10.5,11.7,12.4,13.4,14.1,15.0,15.6,16.1, 16.9,18.1,18.8,20.1,20.8,21.9,22.6,23.8,24.2,24.7],
  [0,0,0.05,0.1,0.2,0.3,0.45,0.6,0.8,1.0,1.2, 1.5,1.6,2.1,2.3,2.9,3.0,3.8,3.9,4.7,5.2, 5.5,6.4,6.6,7.6,7.9,8.9,9.2,10.3,10.5,11.5, 11.8,12.9,13.2,14.1,14.4,15.4,15.7,16.5,17.6,18.8, 21.0,23.0,25.3,25.7,27.8,30.6,31.2,31.8,32.3,32.9],
  [0,0,0.02,0.08,0.15,0.2,0.3,0.4,0.5,0.6,0.7, 1.0,1.4,1.7,2.2,2.5,2.8,3.3,3.5,3.8,3.9, 4.4,5.2,5.7,6.5,7.0,7.6,8.3,8.7,9.3,9.5, 10.2,11.5,12.1,13.4,14.1,15.2,15.9,16.9,17.5,18.0, 19.0,20.7,21.8,23.5,24.6,26.2,27.2,28.9,29.8,30.8],
  [0,0.02,0.08,0.15,0.25,0.4,0.6,0.8,1.0,1.25,1.5, 1.8,2.1,2.5,2.9,3.3,3.8,4.2,4.7,5.2,5.8, 6.1,7.0,7.3,8.3,8.5,9.6,9.8,11.0,11.2,12.3, 12.8,13.7,14.0,15.1,15.3,16.3,16.6,17.7,18.3,19.5, 20.5,21.8,23.0,24.0,25.6,27.5,28.8,30.0,31.3,34.0],
  [0,0.05,0.2,0.3,0.5,0.6,0.85,1.0,1.15,1.35,1.48, 1.8,2.1,2.4,2.8,3.1,3.4,3.8,4.0,4.3,4.4, 5.0,5.8,6.3,7.2,7.6,8.2,8.9,9.3,9.7,9.9, 10.3,11.1,11.5,12.3,12.8,13.4,13.8,14.5,14.9,15.1, 15.9,17.0,17.6,18.7,19.3,20.3,20.9,21.9,22.4,23.0],
  [0,0,0.05,0.1,0.2,0.25,0.4,0.5,0.6,0.75,0.82, 1.2,1.5,1.8,2.2,2.5,2.8,3.2,3.3,3.6,3.64, 4.2,5.0,5.5,6.3,6.8,7.5,8.1,8.5,8.9,9.1, 9.6,10.6,11.0,11.9,12.4,13.2,13.7,14.5,15.0,15.3, 16.0,17.2,17.8,19.0,19.6,20.7,21.3,22.4,22.9,23.3],
  [0,0.02,0.1,0.2,0.3,0.4,0.55,0.7,0.8,0.95,1.06, 1.4,1.7,2.0,2.5,2.8,3.1,3.6,3.8,4.1,4.16, 4.6,5.3,5.7,6.4,6.9,7.5,8.1,8.5,9.1,9.3, 9.9,11.0,11.5,12.5,13.1,14.0,14.6,15.5,16.4,17.2, 17.9,18.9,19.4,20.5,21.1,22.0,22.6,23.7,24.4,25.4]
];

const fontFamily = '"Liberation Sans", Arial, Helvetica, sans-serif';
const inkColor = '#262626';
const frameColor = '#4d4d4d';

const chart = echarts.init(document.getElementById('chart'), null, { renderer: 'canvas' });

function valueAxis(ticks, extra) {
  return Object.assign({
    type: 'value',
    min: ticks[0],
    max: ticks[ticks.length - 1],
    interval: ticks[1] - ticks[0],
    axisLine: { show: true, onZero: false, lineStyle: { color: frameColor, width: 1 } },
    axisTick: { show: true, inside: true, length: 6, lineStyle: { color: frameColor, width: 1 } },
    splitLine: { show: false },
    axisLabel: { show: false }
  }, extra);
}

const tickLabelStyle = { show: true, color: inkColor, fontSize: 19, fontFamily: fontFamily };

const series = samplePaths.map((path, i) => ({
  type: 'line',
  xAxisIndex: 0,
  yAxisIndex: 0,
  data: timeGrid.map((t, k) => [t, path[k]]),
  symbol: 'none',
  showSymbol: false,
  silent: true,
  lineStyle: { width: 1.2, color: lineColors[i % lineColors.length] },
  itemStyle: { color: lineColors[i % lineColors.length] },
  z: 2
}));

chart.setOption({
  animation: false,
  backgroundColor: '#ffffff',
  title: {
    text: chartTitle,
    left: 'center',
    top: 7,
    textStyle: { fontSize: 20, fontWeight: 'bold', color: '#000000', fontFamily: fontFamily }
  },
  // fixed plot rectangle; labels and the axis name sit outside it
  grid: { left: 42, right: 8, top: 39, bottom: 71, containLabel: false, outerBoundsMode: 'none' },
  xAxis: [
    valueAxis(xTicks, {
      position: 'bottom',
      axisLabel: Object.assign({ margin: 15 }, tickLabelStyle),
      name: xAxisTitle,
      nameLocation: 'middle',
      nameGap: 47,
      nameTextStyle: { color: inkColor, fontSize: 22, fontFamily: fontFamily }
    }),
    valueAxis(xTicks, { position: 'top' })
  ],
  yAxis: [
    valueAxis(yTicks, {
      position: 'left',
      axisLabel: Object.assign({ margin: 7 }, tickLabelStyle)
    }),
    valueAxis(yTicks, { position: 'right' })
  ],
  series: series
});
</script>
</body>
</html>
